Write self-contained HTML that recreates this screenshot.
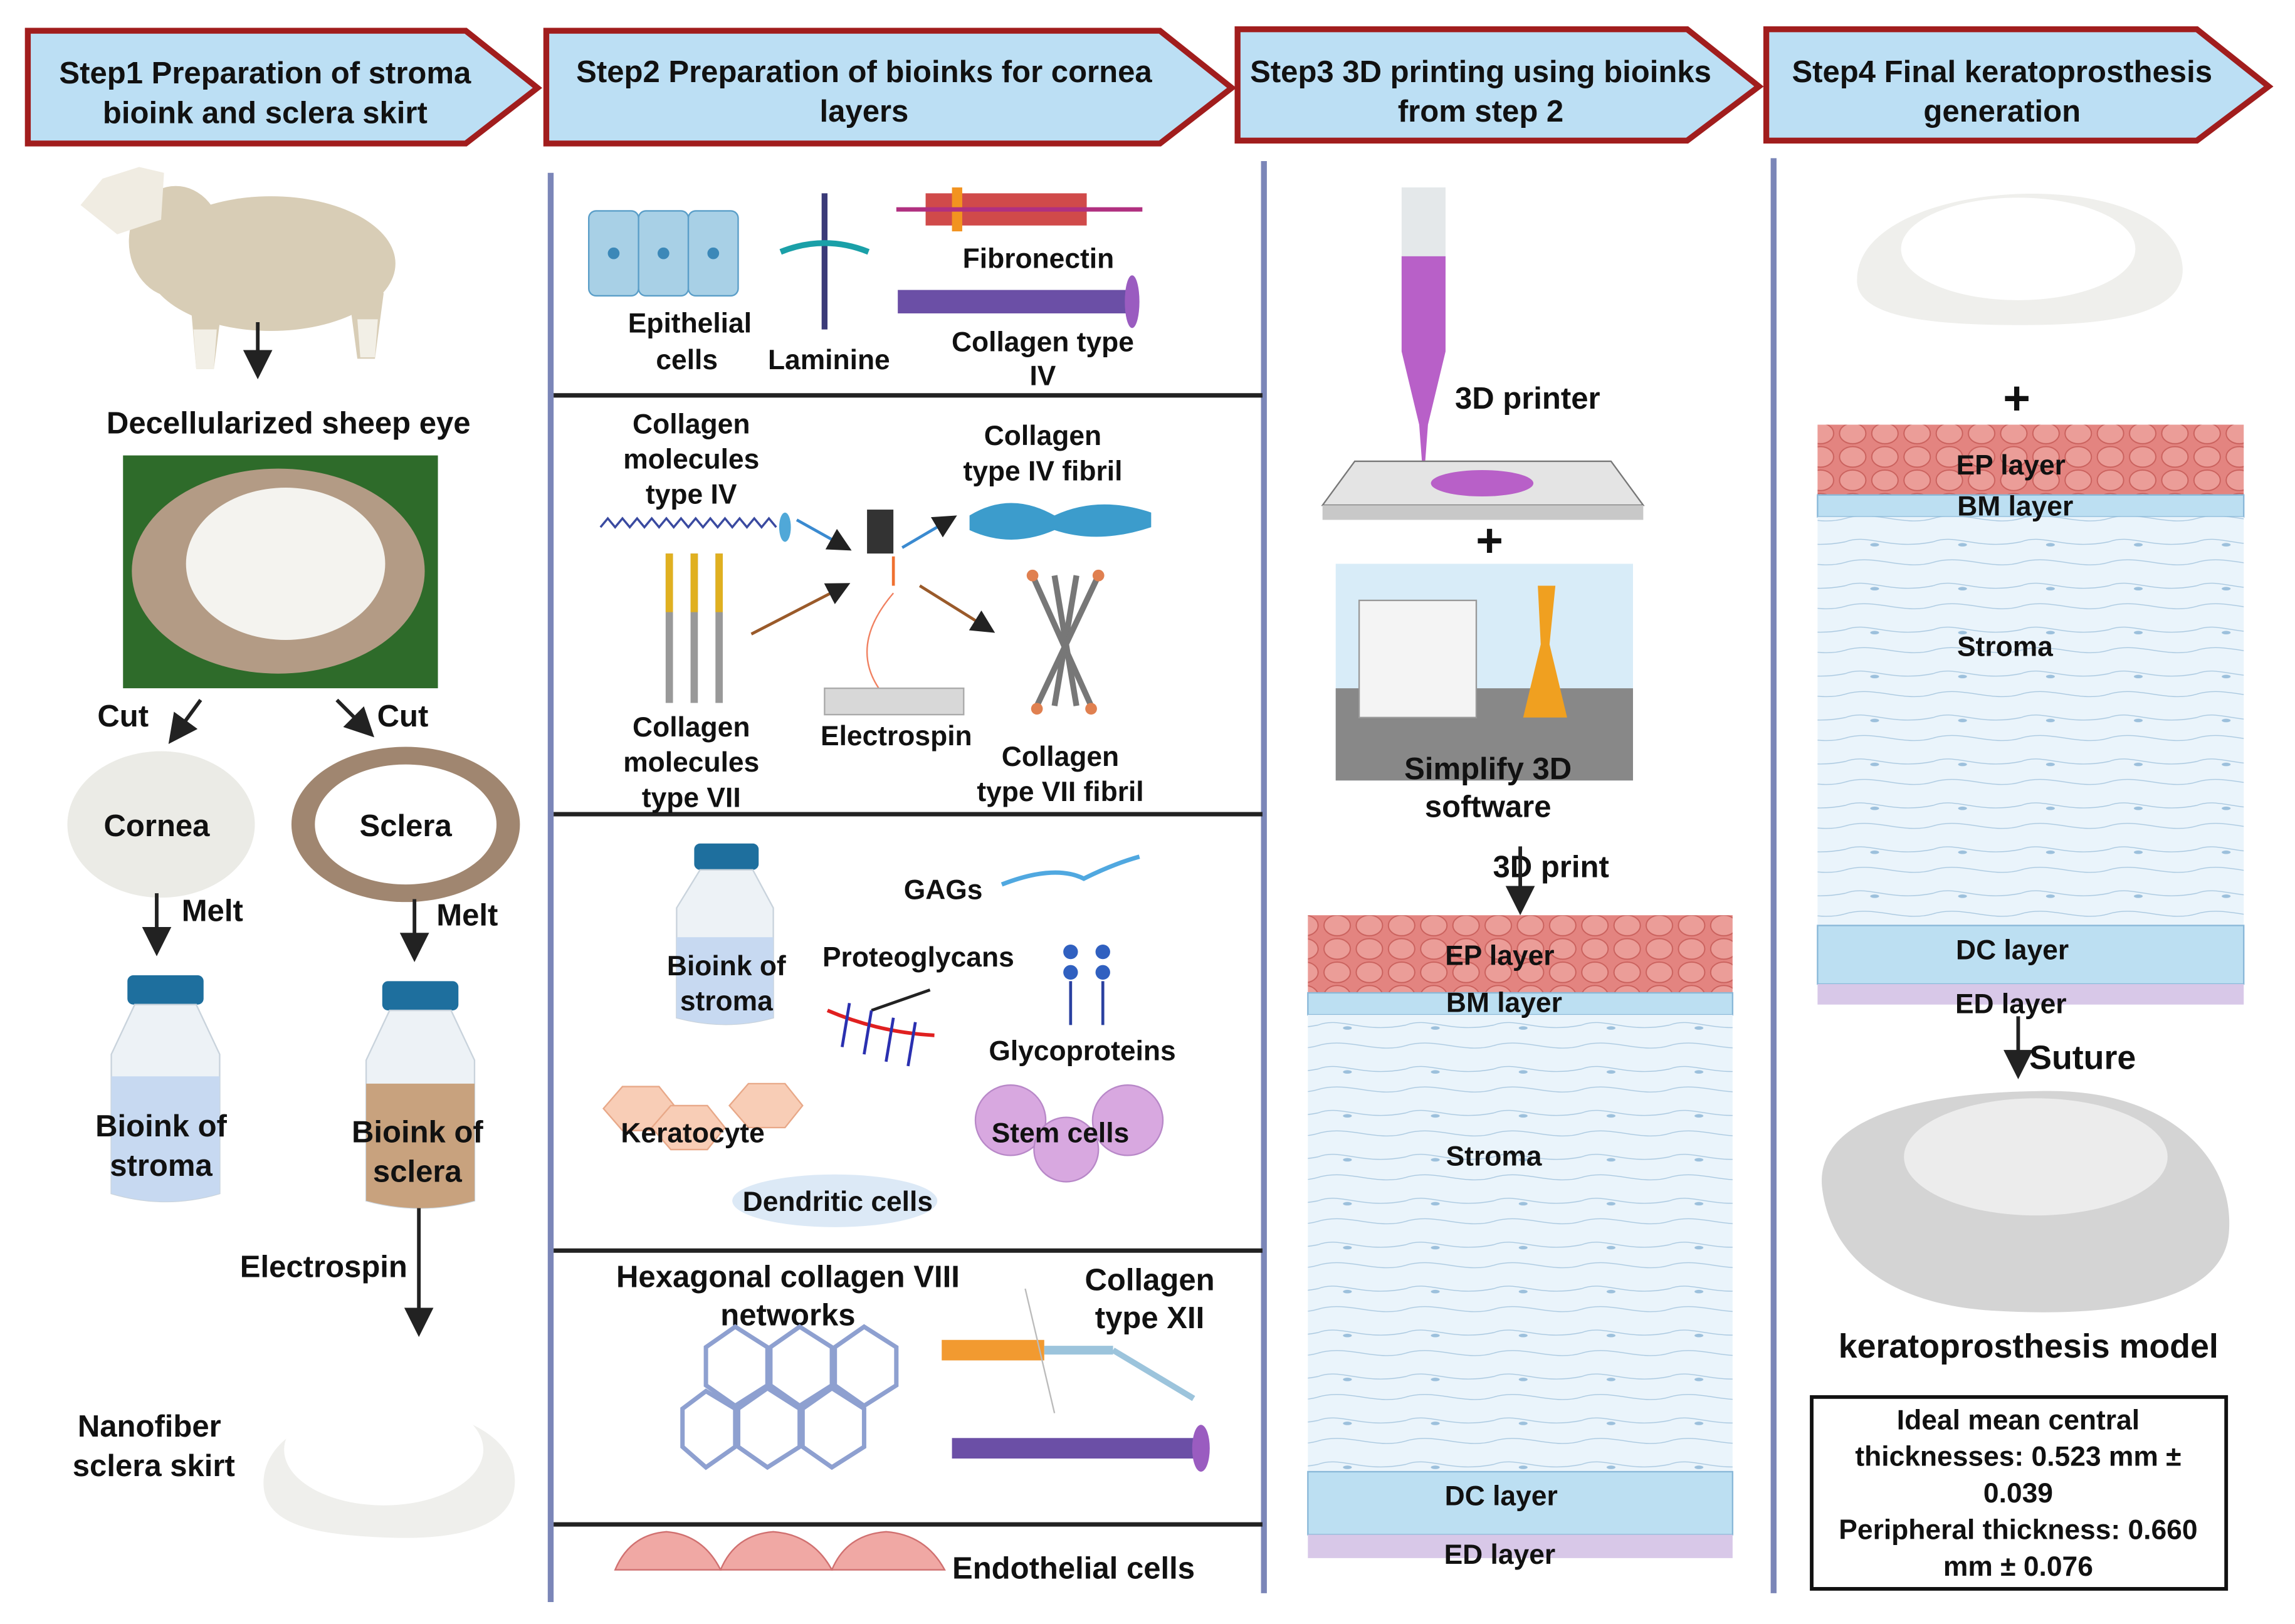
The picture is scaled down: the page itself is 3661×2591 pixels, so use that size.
<!DOCTYPE html>
<html><head><meta charset="utf-8"><style>
html,body{margin:0;padding:0;background:#fff;}
svg{display:block;}
text{font-family:"Liberation Sans",sans-serif;font-weight:bold;fill:#111;}
</style></head><body>
<svg width="3661" height="2591" viewBox="0 0 1567 1109" preserveAspectRatio="none" xmlns="http://www.w3.org/2000/svg">
<defs>
<marker id="ah" markerWidth="8" markerHeight="8" refX="6" refY="4" orient="auto" markerUnits="strokeWidth"><path d="M0,0 L8,4 L0,8 z" fill="#222"/></marker>
<pattern id="ep" width="22" height="16" patternUnits="userSpaceOnUse"><rect width="22" height="16" fill="#e38480"/><ellipse cx="11" cy="8" rx="9" ry="7" fill="#eb9d98" stroke="#c9605c" stroke-width="0.8"/></pattern>
<pattern id="st" width="60" height="30" patternUnits="userSpaceOnUse"><rect width="60" height="30" fill="#eaf4fb"/><path d="M0,10 C15,4 30,16 60,10 M0,24 C20,18 40,30 60,24" stroke="#a9c8e0" stroke-width="0.6" fill="none"/><ellipse cx="20" cy="12" rx="3" ry="1.2" fill="#9cc0dc"/></pattern>
</defs>
<!-- headers -->
<g stroke="#a11d1d" stroke-width="4" fill="#bcdff4">
<path d="M19,21 L318,21 L367,60 L318,98 L19,98 Z"/>
<path d="M373,21 L792,21 L841,60 L792,98 L373,98 Z"/>
<path d="M845,20 L1152,20 L1201,59 L1152,96 L845,96 Z"/>
<path d="M1206,20 L1500,20 L1549,59 L1500,96 L1206,96 Z"/>
</g>
<g font-size="21" text-anchor="middle">
<text x="181" y="57">Step1 Preparation of stroma</text><text x="181" y="84">bioink and sclera skirt</text>
<text x="590" y="56">Step2 Preparation of bioinks for cornea</text><text x="590" y="83">layers</text>
<text x="1011" y="56">Step3 3D printing using bioinks</text><text x="1011" y="83">from step 2</text>
<text x="1367" y="56">Step4 Final keratoprosthesis</text><text x="1367" y="83">generation</text>
</g>
<!-- dividers -->
<g stroke="#7b86b8" stroke-width="4"><line x1="376" y1="118" x2="376" y2="1094"/><line x1="863" y1="110" x2="863" y2="1088"/><line x1="1211" y1="108" x2="1211" y2="1088"/></g>
<g stroke="#222" stroke-width="3"><line x1="378" y1="270" x2="862" y2="270"/><line x1="378" y1="556" x2="862" y2="556"/><line x1="378" y1="854" x2="862" y2="854"/><line x1="378" y1="1041" x2="862" y2="1041"/></g>

<!-- Step1 sheep -->
<g fill="#d8cdb6">
<ellipse cx="185" cy="180" rx="85" ry="46"/>
<ellipse cx="120" cy="165" rx="32" ry="38"/>
<path d="M130,205 L152,205 L146,252 L134,252 Z"/>
<path d="M238,200 L262,200 L256,245 L244,245 Z"/>
</g>
<path d="M55,140 L70,122 L95,114 L112,118 L110,150 L80,160 Z" fill="#f0ece2"/>
<path d="M132,225 L148,225 L146,252 L134,252 Z" fill="#f2efe6"/>
<path d="M244,218 L258,218 L256,244 L246,244 Z" fill="#f2efe6"/>
<line x1="176" y1="220" x2="176" y2="254" stroke="#222" stroke-width="2.5" marker-end="url(#ah)"/>
<text x="197" y="296" font-size="21" text-anchor="middle">Decellularized sheep eye</text>
<rect x="84" y="311" width="215" height="159" fill="#2e6b2a"/>
<ellipse cx="190" cy="390" rx="100" ry="70" fill="#b39b85"/>
<ellipse cx="195" cy="385" rx="68" ry="52" fill="#f4f3ef"/>
<line x1="137" y1="478" x2="118" y2="504" stroke="#222" stroke-width="2.5" marker-end="url(#ah)"/>
<line x1="230" y1="478" x2="252" y2="500" stroke="#222" stroke-width="2.5" marker-end="url(#ah)"/>
<text x="84" y="496" font-size="21" text-anchor="middle">Cut</text><text x="275" y="496" font-size="21" text-anchor="middle">Cut</text>
<ellipse cx="110" cy="563" rx="64" ry="50" fill="#ebebe6"/>
<ellipse cx="277" cy="563" rx="78" ry="53" fill="#a08670"/><ellipse cx="277" cy="563" rx="62" ry="41" fill="#fff"/>
<text x="107" y="571" font-size="21" text-anchor="middle">Cornea</text><text x="277" y="571" font-size="21" text-anchor="middle">Sclera</text>
<line x1="107" y1="610" x2="107" y2="648" stroke="#222" stroke-width="2.5" marker-end="url(#ah)"/>
<line x1="283" y1="614" x2="283" y2="652" stroke="#222" stroke-width="2.5" marker-end="url(#ah)"/>
<text x="145" y="629" font-size="21" text-anchor="middle">Melt</text><text x="319" y="632" font-size="21" text-anchor="middle">Melt</text>
<rect x="87" y="666" width="52" height="20" rx="4" fill="#1e6f9e"/>
<path d="M92,686 L134,686 L150,720 L150,815 Q113,826 76,815 L76,720 Z" fill="#edf2f6" stroke="#c9d3dc"/>
<path d="M76,735 L150,735 L150,815 Q113,826 76,815 Z" fill="#c7d9f1"/>
<rect x="261" y="670" width="52" height="20" rx="4" fill="#1e6f9e"/>
<path d="M266,690 L308,690 L324,724 L324,820 Q287,830 250,820 L250,724 Z" fill="#edf2f6" stroke="#c9d3dc"/>
<path d="M250,740 L324,740 L324,820 Q287,830 250,820 Z" fill="#c8a27e"/>
<text x="110" y="776" font-size="21" text-anchor="middle">Bioink of</text><text x="110" y="803" font-size="21" text-anchor="middle">stroma</text>
<text x="285" y="780" font-size="21" text-anchor="middle">Bioink of</text><text x="285" y="807" font-size="21" text-anchor="middle">sclera</text>
<line x1="286" y1="825" x2="286" y2="908" stroke="#222" stroke-width="2.5" marker-end="url(#ah)"/>
<text x="221" y="872" font-size="21" text-anchor="middle">Electrospin</text>
<path d="M180,1010 C185,950 330,945 350,1000 C360,1040 320,1052 265,1050 C210,1048 178,1040 180,1010 Z" fill="#efefec"/>
<ellipse cx="262" cy="990" rx="68" ry="38" fill="#fff"/>
<text x="102" y="981" font-size="21" text-anchor="middle">Nanofiber</text><text x="105" y="1008" font-size="21" text-anchor="middle">sclera skirt</text>

<!-- Step2 -->
<g fill="#a8d0e6" stroke="#5a9ec8"><rect x="402" y="144" width="34" height="58" rx="5"/><rect x="436" y="144" width="34" height="58" rx="5"/><rect x="470" y="144" width="34" height="58" rx="5"/></g>
<g fill="#3c88b8"><circle cx="419" cy="173" r="4"/><circle cx="453" cy="173" r="4"/><circle cx="487" cy="173" r="4"/></g>
<line x1="563" y1="132" x2="563" y2="225" stroke="#3a3a78" stroke-width="4"/><path d="M533,172 Q563,160 593,172" stroke="#1aa0a8" stroke-width="4" fill="none"/>
<rect x="632" y="132" width="110" height="22" fill="#d04a4a"/><rect x="650" y="128" width="7" height="30" fill="#f29320"/><line x1="612" y1="143" x2="780" y2="143" stroke="#b03080" stroke-width="3"/>
<rect x="613" y="198" width="160" height="16" fill="#6b4fa6"/><ellipse cx="773" cy="206" rx="5" ry="18" fill="#9a5cc0"/>
<text x="709" y="183" font-size="19" text-anchor="middle">Fibronectin</text>
<text x="471" y="227" font-size="19" text-anchor="middle">Epithelial</text><text x="469" y="252" font-size="19" text-anchor="middle">cells</text>
<text x="566" y="252" font-size="19" text-anchor="middle">Laminine</text>
<text x="712" y="240" font-size="19" text-anchor="middle">Collagen type</text><text x="712" y="263" font-size="19" text-anchor="middle">IV</text>

<text x="472" y="296" font-size="19" text-anchor="middle">Collagen</text><text x="472" y="320" font-size="19" text-anchor="middle">molecules</text><text x="472" y="344" font-size="19" text-anchor="middle">type IV</text>
<path d="M410,360 l5,-6 l5,6 l5,-6 l5,6 l5,-6 l5,6 l5,-6 l5,6 l5,-6 l5,6 l5,-6 l5,6 l5,-6 l5,6 l5,-6 l5,6 l5,-6 l5,6 l5,-6 l5,6 l5,-6 l5,6 l5,-6 l5,6" stroke="#3a4aa0" stroke-width="1.5" fill="none"/>
<ellipse cx="536" cy="360" rx="4" ry="10" fill="#50a8d8"/>
<g stroke-width="5"><line x1="457" y1="378" x2="457" y2="480" stroke="#999"/><line x1="474" y1="378" x2="474" y2="480" stroke="#999"/><line x1="491" y1="378" x2="491" y2="480" stroke="#999"/>
<line x1="457" y1="378" x2="457" y2="418" stroke="#e0b020"/><line x1="474" y1="378" x2="474" y2="418" stroke="#e0b020"/><line x1="491" y1="378" x2="491" y2="418" stroke="#e0b020"/></g>
<text x="472" y="503" font-size="19" text-anchor="middle">Collagen</text><text x="472" y="527" font-size="19" text-anchor="middle">molecules</text><text x="472" y="551" font-size="19" text-anchor="middle">type VII</text>
<text x="712" y="304" font-size="19" text-anchor="middle">Collagen</text><text x="712" y="328" font-size="19" text-anchor="middle">type IV fibril</text>
<path d="M662,352 Q690,335 720,352 Q750,338 786,350 L786,360 Q750,372 720,362 Q690,375 662,362 Z" fill="#3c9ccc"/>
<rect x="592" y="348" width="18" height="30" fill="#333"/><line x1="610" y1="380" x2="610" y2="400" stroke="#f07030" stroke-width="2"/>
<path d="M610,405 Q580,440 600,470" stroke="#f08060" fill="none"/><path d="M595,480 L625,480" stroke="#f08060"/>
<rect x="563" y="470" width="95" height="18" fill="#d8d8d8" stroke="#aaa"/>
<line x1="544" y1="355" x2="578" y2="374" stroke="#3a8ad0" stroke-width="2" marker-end="url(#ah)"/>
<line x1="616" y1="374" x2="650" y2="354" stroke="#3a8ad0" stroke-width="2" marker-end="url(#ah)"/>
<line x1="513" y1="433" x2="577" y2="400" stroke="#9a5a2a" stroke-width="2" marker-end="url(#ah)"/>
<line x1="628" y1="400" x2="676" y2="430" stroke="#9a5a2a" stroke-width="2" marker-end="url(#ah)"/>
<text x="612" y="509" font-size="19" text-anchor="middle">Electrospin</text>
<g stroke="#777" stroke-width="4"><line x1="705" y1="393" x2="745" y2="482"/><line x1="720" y1="393" x2="735" y2="482"/><line x1="735" y1="393" x2="720" y2="482"/><line x1="750" y1="393" x2="708" y2="482"/></g>
<g fill="#e08050"><circle cx="705" cy="393" r="4"/><circle cx="750" cy="393" r="4"/><circle cx="708" cy="484" r="4"/><circle cx="745" cy="484" r="4"/></g>
<text x="724" y="523" font-size="19" text-anchor="middle">Collagen</text><text x="724" y="547" font-size="19" text-anchor="middle">type VII fibril</text>

<rect x="474" y="576" width="44" height="18" rx="4" fill="#1e6f9e"/>
<path d="M478,594 L514,594 L528,620 L528,695 Q496,704 462,695 L462,620 Z" fill="#edf2f6" stroke="#c9d3dc"/>
<path d="M462,640 L528,640 L528,695 Q496,704 462,695 Z" fill="#c7d9f1"/>
<text x="496" y="666" font-size="19" text-anchor="middle">Bioink of</text><text x="496" y="690" font-size="19" text-anchor="middle">stroma</text>
<text x="644" y="614" font-size="19" text-anchor="middle">GAGs</text>
<path d="M684,604 Q720,590 740,600 Q760,590 778,585" stroke="#50a8e0" stroke-width="3" fill="none"/>
<text x="627" y="660" font-size="19" text-anchor="middle">Proteoglycans</text>
<path d="M565,690 Q600,705 638,707" stroke="#e02020" stroke-width="2.5" fill="none"/>
<line x1="595" y1="690" x2="635" y2="676" stroke="#222" stroke-width="2"/>
<g stroke="#2a30b0" stroke-width="2"><line x1="580" y1="685" x2="575" y2="715"/><line x1="595" y1="690" x2="590" y2="720"/><line x1="610" y1="695" x2="605" y2="725"/><line x1="625" y1="698" x2="620" y2="728"/></g>
<g fill="#3060c0"><circle cx="731" cy="650" r="5"/><circle cx="731" cy="664" r="5"/><circle cx="753" cy="650" r="5"/><circle cx="753" cy="664" r="5"/></g>
<line x1="731" y1="670" x2="731" y2="700" stroke="#2a40a0" stroke-width="2"/><line x1="753" y1="670" x2="753" y2="700" stroke="#2a40a0" stroke-width="2"/>
<text x="739" y="724" font-size="19" text-anchor="middle">Glycoproteins</text>
<g fill="#f8cdb6" stroke="#e8a888"><polygon points="412,757 425,742 450,742 462,757 450,772 425,772"/><polygon points="445,770 458,755 483,755 495,770 483,785 458,785"/><polygon points="498,755 511,740 536,740 548,755 536,770 511,770"/></g>
<text x="473" y="780" font-size="19" text-anchor="middle">Keratocyte</text>
<g fill="#d8a8e0" stroke="#b888c8"><circle cx="690" cy="765" r="24"/><circle cx="770" cy="765" r="24"/><circle cx="728" cy="785" r="22"/></g>
<text x="724" y="780" font-size="19" text-anchor="middle">Stem cells</text>
<ellipse cx="570" cy="820" rx="70" ry="18" fill="#dce9f6"/>
<text x="572" y="827" font-size="19" text-anchor="middle">Dendritic cells</text>

<text x="538" y="879" font-size="21" text-anchor="middle">Hexagonal collagen VIII</text><text x="538" y="905" font-size="21" text-anchor="middle">networks</text>
<g stroke="#8ea0d0" stroke-width="3" fill="none">
<polygon points="482,920 502,906 524,920 524,946 502,960 482,946"/><polygon points="526,920 546,906 568,920 568,946 546,960 526,946"/><polygon points="570,920 590,906 612,920 612,946 590,960 570,946"/>
<polygon points="504,962 524,948 546,962 546,988 524,1002 504,988"/><polygon points="548,962 568,948 590,962 590,988 568,1002 548,988"/><polygon points="466,962 482,950 502,962 502,988 482,1002 466,988"/></g>
<text x="785" y="881" font-size="21" text-anchor="middle">Collagen</text><text x="785" y="907" font-size="21" text-anchor="middle">type XII</text>
<rect x="643" y="915" width="70" height="14" fill="#f29a30"/>
<line x1="713" y1="922" x2="760" y2="922" stroke="#9cc4dc" stroke-width="6"/><line x1="760" y1="922" x2="815" y2="955" stroke="#9cc4dc" stroke-width="4"/>
<line x1="700" y1="880" x2="720" y2="965" stroke="#bbb" stroke-width="1"/>
<rect x="650" y="982" width="170" height="14" fill="#6b4fa6"/><ellipse cx="820" cy="989" rx="6" ry="16" fill="#9a5cc0"/>
<g fill="#f0a8a4" stroke="#d07070"><path d="M420,1072 Q430,1048 455,1046 Q480,1048 492,1072 Z"/><path d="M492,1072 Q502,1048 528,1046 Q555,1048 568,1072 Z"/><path d="M568,1072 Q578,1048 605,1046 Q632,1048 645,1072 Z"/></g>
<text x="733" y="1078" font-size="21" text-anchor="middle">Endothelial cells</text>

<!-- Step3 -->
<rect x="957" y="128" width="30" height="60" fill="#e4e8ea"/>
<path d="M957,175 L987,175 L987,240 L975,290 L972,330 L969,290 L957,240 Z" fill="#b860c8"/>
<polygon points="925,315 1100,315 1122,345 903,345" fill="#e4e4e4" stroke="#777"/>
<rect x="903" y="345" width="219" height="10" fill="#c8c8c8"/>
<ellipse cx="1012" cy="330" rx="35" ry="9" fill="#b860c8"/>
<text x="1043" y="279" font-size="21" text-anchor="middle">3D printer</text>
<text x="1017" y="380" font-size="32" text-anchor="middle">+</text>
<rect x="912" y="385" width="203" height="148" fill="#d8ecf8"/>
<polygon points="912,470 1115,470 1115,533 912,533" fill="#888"/>
<rect x="928" y="410" width="80" height="80" fill="#f4f4f4" stroke="#999"/>
<path d="M1050,400 L1062,400 L1058,440 L1070,490 L1040,490 L1052,440 Z" fill="#f0a020"/>
<text x="1016" y="532" font-size="21" text-anchor="middle">Simplify 3D</text><text x="1016" y="558" font-size="21" text-anchor="middle">software</text>
<text x="1059" y="599" font-size="21" text-anchor="middle">3D print</text>
<line x1="1038" y1="578" x2="1038" y2="620" stroke="#222" stroke-width="2.5" marker-end="url(#ah)"/>
<rect x="893" y="625" width="290" height="53" fill="url(#ep)"/>
<rect x="893" y="678" width="290" height="15" fill="#bcdff2" stroke="#8ab8d8"/>
<rect x="893" y="693" width="290" height="312" fill="url(#st)"/>
<rect x="893" y="1005" width="290" height="43" fill="#bcdff2" stroke="#8ab8d8"/>
<rect x="893" y="1048" width="290" height="16" fill="#d8c8e8"/>
<text x="1024" y="659" font-size="19" text-anchor="middle">EP layer</text>
<text x="1027" y="691" font-size="19" text-anchor="middle">BM layer</text>
<text x="1020" y="796" font-size="19" text-anchor="middle">Stroma</text>
<text x="1025" y="1028" font-size="19" text-anchor="middle">DC layer</text>
<text x="1024" y="1068" font-size="19" text-anchor="middle">ED layer</text>

<!-- Step4 -->
<path d="M1268,190 C1270,120 1480,110 1490,180 C1495,215 1440,222 1380,222 C1310,222 1266,215 1268,190 Z" fill="#efefec"/>
<ellipse cx="1378" cy="170" rx="80" ry="35" fill="#fff"/>
<text x="1377" y="283" font-size="32" text-anchor="middle">+</text>
<rect x="1241" y="290" width="291" height="48" fill="url(#ep)"/>
<rect x="1241" y="338" width="291" height="15" fill="#bcdff2" stroke="#8ab8d8"/>
<rect x="1241" y="353" width="291" height="279" fill="url(#st)"/>
<rect x="1241" y="632" width="291" height="40" fill="#bcdff2" stroke="#8ab8d8"/>
<rect x="1241" y="672" width="291" height="14" fill="#d8c8e8"/>
<text x="1373" y="324" font-size="19" text-anchor="middle">EP layer</text>
<text x="1376" y="352" font-size="19" text-anchor="middle">BM layer</text>
<text x="1369" y="448" font-size="19" text-anchor="middle">Stroma</text>
<text x="1374" y="655" font-size="19" text-anchor="middle">DC layer</text>
<text x="1373" y="692" font-size="19" text-anchor="middle">ED layer</text>
<line x1="1378" y1="694" x2="1378" y2="732" stroke="#222" stroke-width="2.5" marker-end="url(#ah)"/>
<text x="1422" y="730" font-size="23" text-anchor="middle">Suture</text>
<path d="M1244,810 C1240,760 1320,745 1400,745 C1480,745 1525,790 1522,840 C1520,890 1440,900 1360,895 C1280,890 1248,850 1244,810 Z" fill="#d4d4d4"/>
<ellipse cx="1390" cy="790" rx="90" ry="40" fill="#ececec"/>
<text x="1385" y="927" font-size="23" text-anchor="middle">keratoprosthesis model</text>
<rect x="1237" y="954" width="283" height="131" fill="#fff" stroke="#111" stroke-width="2.5"/>
<g font-size="19" text-anchor="middle"><text x="1378" y="976">Ideal mean central</text><text x="1378" y="1001">thicknesses: 0.523 mm ±</text><text x="1378" y="1026">0.039</text><text x="1378" y="1051">Peripheral thickness: 0.660</text><text x="1378" y="1076">mm ± 0.076</text></g>
</svg>
</body></html>
